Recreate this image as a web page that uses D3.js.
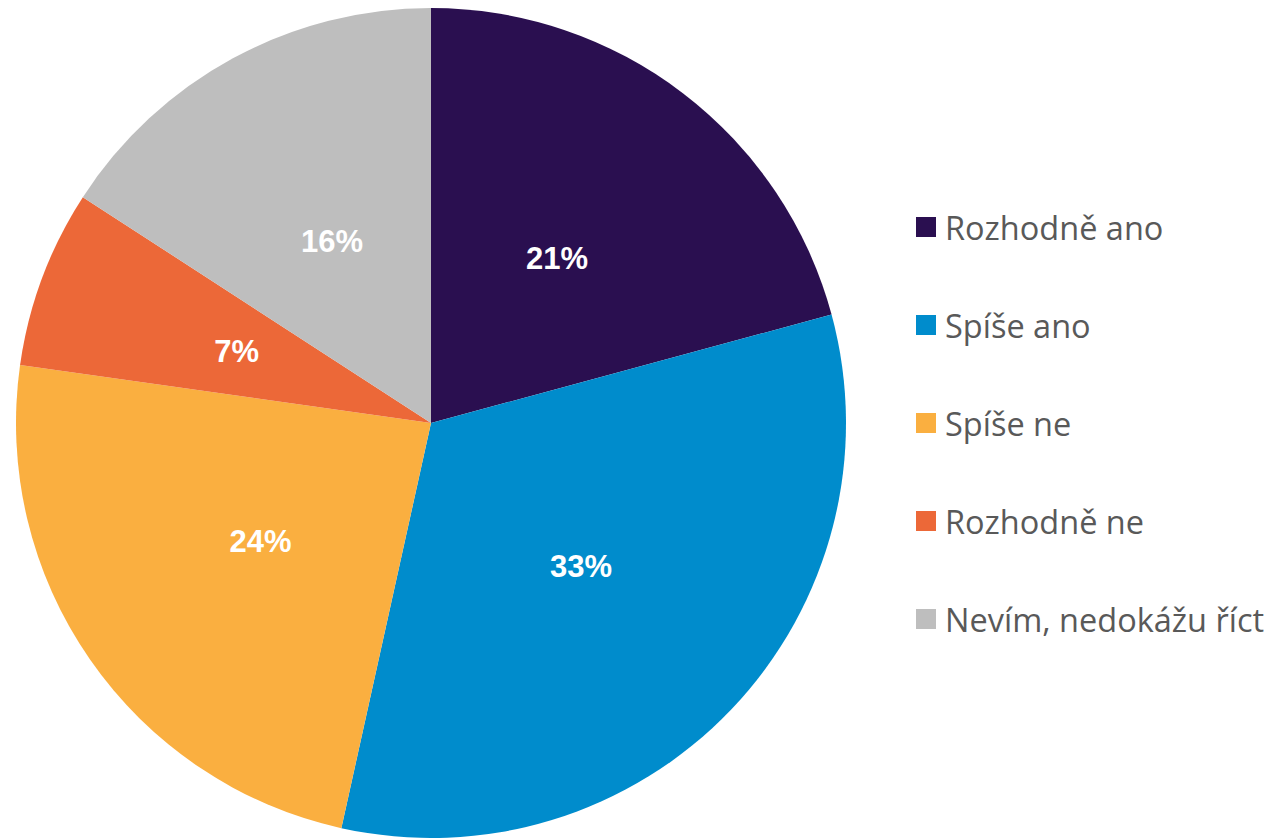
<!DOCTYPE html>
<html>
<head>
<meta charset="utf-8">
<script src="https://cdn.jsdelivr.net/npm/d3@7"></script>
<style>
  body { margin: 0; background: #fff; }
  svg { display: block; }
</style>
</head>
<body>
<svg width="1280" height="838"></svg>
<script>
const CATEGORIES = ['Rozhodně ano', 'Spíše ano', 'Spíše ne', 'Rozhodně ne', 'Nevím, nedokážu říct'];
const VALUES = [21, 33, 24, 7, 16];
const COLORS = ['#2a0f50', '#008ccc', '#faaf40', '#ec6838', '#bebebe'];

const SVG = d3.select('svg');
const CX = 431;
const CY = 423;
const RADIUS = 415;

const PIE = d3.pie().sort(null).value(d => d.value);
const ARC = d3.arc().innerRadius(0).outerRadius(RADIUS);
const LABEL_ARC = d3.arc().innerRadius(0).outerRadius(RADIUS);

const data = CATEGORIES.map((c, i) => ({ name: c, value: VALUES[i], color: COLORS[i] }));

const CHART = SVG.append('g')
  .attr('transform', `translate(${CX},${CY})`);

CHART.selectAll('path')
  .data(PIE(data))
  .join('path')
  .attr('d', ARC)
  .style('fill', d => d.data.color);

CHART.selectAll('text')
  .data(PIE(data))
  .join('text')
  .attr('transform', d => `translate(${LABEL_ARC.centroid(d)})`)
  .attr('dy', '0.36em')
  .style('text-anchor', 'middle')
  .style('font-family', 'Liberation Sans, Arial, sans-serif')
  .style('font-weight', '700')
  .style('font-size', '31px')
  .style('fill', '#fff')
  .text(d => `${d.data.value}%`);

// legend
const LEGEND = SVG.append('g')
  .attr('transform', 'translate(916,228)');

const ROW = LEGEND.selectAll('g')
  .data(data)
  .join('g')
  .attr('transform', (d, i) => `translate(0,${i * 98})`);

ROW.append('rect')
  .attr('x', 0)
  .attr('y', -11)
  .attr('width', 20)
  .attr('height', 20)
  .style('fill', d => d.color);

ROW.append('text')
  .attr('x', 29)
  .attr('y', 0)
  .attr('dy', '0.36em')
  .style('font-family', 'Open Sans, sans-serif')
  .style('font-size', '32.5px')
  .style('fill', '#595959')
  .text(d => d.name);
</script>
</body>
</html>
